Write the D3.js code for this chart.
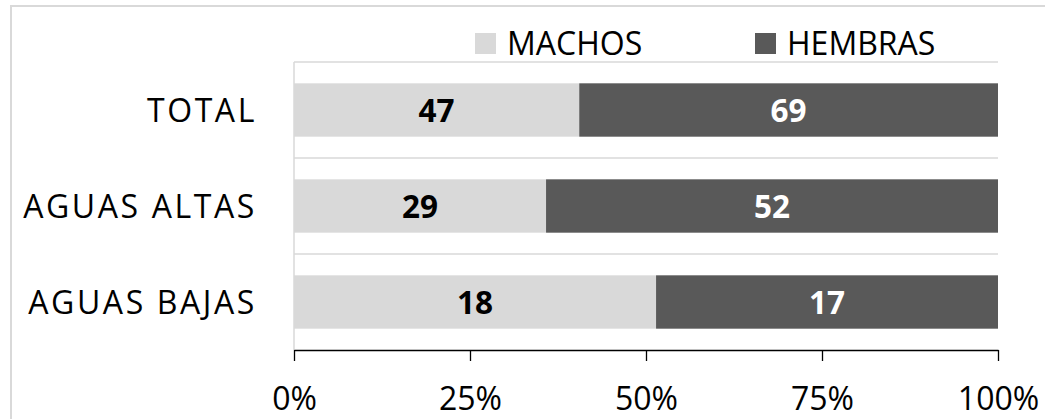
<!DOCTYPE html>
<html>
<head>
<meta charset="utf-8">
<script src="https://cdn.jsdelivr.net/npm/d3@7"></script>
<style>
  html, body { margin: 0; padding: 0; background: #fff; }
  svg { display: block; font-family: "Open Sans", "Noto Sans", sans-serif; }
</style>
</head>
<body>
<svg id="chart" width="1045" height="419"></svg>
<script>
const categories = ["TOTAL", "AGUAS ALTAS", "AGUAS BAJAS"];
const seriesNames = ["MACHOS", "HEMBRAS"];
const machos = [47, 29, 18];
const hembras = [69, 52, 17];
const tickValues = [0, 0.25, 0.5, 0.75, 1];
const colors = ["#d9d9d9", "#595959"];
const labelColors = ["#000000", "#ffffff"];

const svg = d3.select("#chart");
const W = 1045, H = 419;
const margin = { left: 294, right: 47, top: 62, bottom: 69 };

// outer chart border
svg.append("rect")
  .attr("x", 11).attr("y", 6)
  .attr("width", 1200).attr("height", 600)
  .attr("fill", "none").attr("stroke", "#d9d9d9").attr("stroke-width", 2);

const x = d3.scaleLinear().domain([0, 1]).range([margin.left, W - margin.right]);
const y = d3.scaleBand().domain(categories)
  .range([margin.top, H - margin.bottom])
  .paddingInner(0.444).paddingOuter(0.222);

const rows = categories.map((c, i) => {
  const total = machos[i] + hembras[i];
  return {
    cat: c,
    segs: [
      { s: 0, v: machos[i], x0: 0, x1: machos[i] / total },
      { s: 1, v: hembras[i], x0: machos[i] / total, x1: 1 }
    ]
  };
});

// horizontal gridlines at category boundaries
const step = y.step();
const gridYs = categories.map(c => y(c) - y.paddingOuter() * step);
svg.append("g").selectAll("line").data(gridYs).join("line")
  .attr("x1", x(0)).attr("x2", x(1))
  .attr("y1", d => d).attr("y2", d => d)
  .attr("stroke", "#d9d9d9").attr("stroke-width", 1.5);

// category axis line (left)
svg.append("line")
  .attr("x1", x(0)).attr("x2", x(0))
  .attr("y1", margin.top).attr("y2", H - margin.bottom)
  .attr("stroke", "#d9d9d9").attr("stroke-width", 1.5);

// bars
const g = svg.append("g");
rows.forEach(r => {
  g.selectAll(null).data(r.segs).join("rect")
    .attr("x", d => x(d.x0))
    .attr("width", d => x(d.x1) - x(d.x0))
    .attr("y", y(r.cat))
    .attr("height", y.bandwidth())
    .attr("fill", d => colors[d.s]);
  g.selectAll(null).data(r.segs).join("text")
    .attr("x", d => (x(d.x0) + x(d.x1)) / 2)
    .attr("y", y(r.cat) + y.bandwidth() / 2 + 12)
    .attr("text-anchor", "middle")
    .attr("font-size", 31.5)
    .attr("font-weight", "bold")
    .attr("fill", d => labelColors[d.s])
    .text(d => d.v);
});

// category labels
svg.append("g").selectAll("text").data(categories).join("text")
  .attr("x", 257)
  .attr("y", d => y(d) + y.bandwidth() / 2 + 11.5)
  .attr("text-anchor", "end")
  .attr("font-size", 32)
  .attr("letter-spacing", "2.6px")
  .attr("fill", "#000")
  .text(d => d);

// bottom axis
const axis = d3.axisBottom(x)
  .tickValues(tickValues)
  .tickFormat(d3.format(".0%"))
  .tickSize(11)
  .tickSizeOuter(0);
const ax = svg.append("g")
  .attr("transform", `translate(0,${H - margin.bottom})`)
  .call(axis);
ax.select(".domain").attr("stroke", "#000").attr("stroke-width", 1.3);
ax.selectAll(".tick line").attr("stroke", "#000").attr("stroke-width", 1.3);
ax.selectAll(".tick text")
  .attr("font-size", 32)
  .attr("font-family", "'Open Sans', 'Noto Sans', sans-serif")
  .attr("fill", "#000")
  .attr("y", 0).attr("dy", 60);

// legend
const legendX = [475, 755];
const lg = svg.append("g");
seriesNames.forEach((n, i) => {
  lg.append("rect")
    .attr("x", legendX[i]).attr("y", 33)
    .attr("width", 21).attr("height", 21)
    .attr("fill", colors[i]);
  lg.append("text")
    .attr("x", legendX[i] + 32).attr("y", 54.5)
    .attr("font-size", 32)
    .attr("fill", "#000")
    .text(n);
});
</script>
</body>
</html>
